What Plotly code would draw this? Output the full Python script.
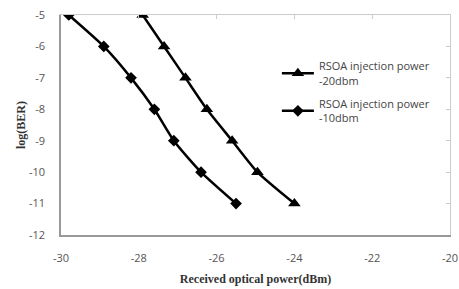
import plotly.graph_objects as go

# Data
log_ber = [-5, -6, -7, -8, -9, -10, -11]
power_m20 = [-27.9, -27.35, -26.8, -26.25, -25.6, -24.95, -24.0]
power_m10 = [-29.8, -28.9, -28.2, -27.6, -27.1, -26.4, -25.5]
name_m20 = "RSOA injection power<br>-20dbm"
name_m10 = "RSOA injection power<br>-10dbm"
x_ticks = [-30, -28, -26, -24, -22, -20]
y_ticks = [-5, -6, -7, -8, -9, -10, -11, -12]

fig = go.Figure()
fig.add_trace(go.Scatter(
    x=power_m20, y=log_ber, name=name_m20, mode="lines+markers", legendgroup="m20",
    line=dict(color="black", width=2.5, shape="spline", smoothing=0.6),
    marker=dict(symbol="triangle-up", size=11, color="black"),
))
fig.add_trace(go.Scatter(
    x=power_m10, y=log_ber, name=name_m10, mode="lines+markers", legendgroup="m10",
    line=dict(color="black", width=2.5, shape="spline", smoothing=0.6),
    marker=dict(symbol="diamond", size=9, color="black"),
))
# mirrored frame axes (top / right)
fig.add_trace(go.Scatter(x=[None], y=[None], xaxis="x2", yaxis="y2", showlegend=False))

tick_font = dict(family="Open Sans, Liberation Sans, sans-serif", size=11, color="#555")
title_font = dict(family="Liberation Serif, DejaVu Serif, serif", size=12, color="#333")

fig.update_layout(
    width=459, height=289,
    margin=dict(l=61, r=9, t=15, b=54, autoexpand=False),
    paper_bgcolor="white", plot_bgcolor="white",
    showlegend=True,
    legend=dict(
        x=0.555, y=0.83, xanchor="left", yanchor="top",
        font=dict(family="Open Sans, Liberation Sans, sans-serif", size=11, color="#444"),
        bgcolor="rgba(0,0,0,0)", itemwidth=32, tracegroupgap=6,
    ),
    xaxis=dict(
        range=[-30, -20], tickvals=x_ticks, ticktext=[str(v) for v in x_ticks],
        showgrid=False, zeroline=False, showline=True, linecolor="#999", linewidth=1.5,
        ticks="", tickfont=tick_font, ticklabelstandoff=12, automargin=False,
        title=dict(text="<b>Received optical power(dBm)</b>", font=title_font, standoff=11),
    ),
    yaxis=dict(
        range=[-12, -5], tickvals=y_ticks, ticktext=[str(v) for v in y_ticks],
        showgrid=False, zeroline=False, showline=True, linecolor="#999", linewidth=1.5,
        ticks="", tickfont=tick_font, ticklabelstandoff=12, automargin=False,
        title=dict(text="<b>log(BER)</b>", font=title_font, standoff=1),
    ),
    xaxis2=dict(
        overlaying="x", side="top", range=[-30, -20], tickvals=x_ticks,
        showticklabels=False, showgrid=False, zeroline=False, showline=True,
        linecolor="#ccc", linewidth=1, ticks="inside", ticklen=4, tickcolor="#ccc",
        automargin=False,
    ),
    yaxis2=dict(
        overlaying="y", side="right", anchor="x", range=[-12, -5], tickvals=y_ticks,
        showticklabels=False, showgrid=False, zeroline=False, showline=True,
        linecolor="#ccc", linewidth=1, ticks="inside", ticklen=4, tickcolor="#ccc",
        automargin=False,
    ),
)

fig.write_html("out.html", config={"displayModeBar": False},
               post_script="document.body.style.margin='0px';")
